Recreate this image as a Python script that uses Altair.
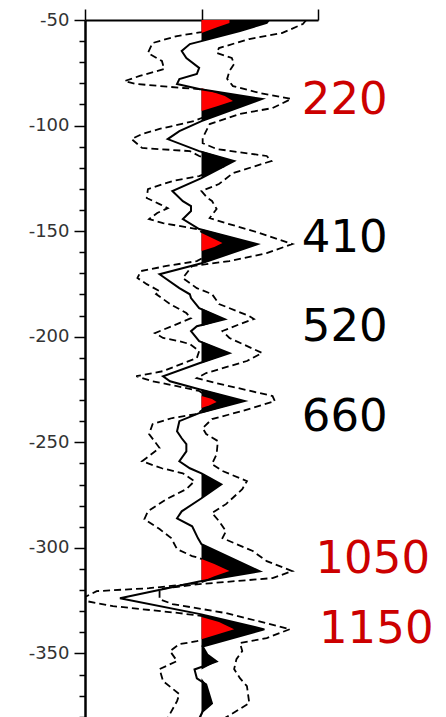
import altair as alt
import pandas as pd
import numpy as np

# ---- solid trace (depth, amplitude) ----
trace_depth = [-50.0, -51.4, -55.2, -60.0, -61.4, -64.7, -68.0, -72.7, -75.6, -78.0, -80.3, -82.7,
               -87.4, -97.9, -102.6, -106.4, -112.1, -116.8, -124.9, -131.0, -135.8, -138.1, -140.5,
               -144.3, -149.0, -156.2, -165.2, -170.4, -177.0, -179.9, -181.7, -186.5, -191.7, -195.0,
               -197.4, -202.1, -207.8, -212.6, -218.7, -221.1, -224.9, -230.5, -236.2, -240.0, -244.8,
               -248.1, -250.9, -254.3, -259.0, -262.3, -264.7, -269.9, -276.5, -282.7, -286.0, -289.8,
               -295.5, -298.3, -311.1, -315.9, -323.9, -331.5, -338.6, -346.7, -350.5, -353.8, -357.6,
               -361.8, -364.7, -373.7, -377.5, -380.8]
trace_amp = [0.58, 0.56, 0.33, 0.0, -0.10, -0.17, -0.13, -0.02, -0.04, -0.19, -0.21, -0.02,
             0.52, 0.0, -0.19, -0.29, -0.02, 0.28, 0.0, -0.25, -0.16, -0.09, -0.09,
             -0.16, -0.02, 0.48, 0.0, -0.36, -0.19, -0.10, -0.09, -0.02, 0.20, -0.04,
             -0.09, -0.02, 0.24, -0.02, -0.33, -0.27, -0.02, 0.37, -0.02, -0.19, -0.21,
             -0.17, -0.13, -0.13, -0.19, -0.10, 0.0, 0.17, 0.0, -0.17, -0.21, -0.08,
             -0.03, 0.0, 0.50, -0.02, -0.70, 0.0, 0.54, 0.01, 0.05, 0.13, -0.06,
             -0.04, 0.04, 0.09, 0.01, -0.02]

# ---- right dashed envelope ----
upper_depth = [-50.0, -51.9, -56.2, -59.0, -63.3, -65.6, -68.0, -70.8, -74.2, -77.9, -81.3, -84.6, -87.4,
               -91.7, -94.5, -99.3, -105.9, -108.3, -111.1, -114.4, -116.8, -122.5, -127.7, -131.0,
               -134.3, -135.7, -139.5, -143.8, -146.2, -150.9, -156.1, -160.4, -164.2, -166.5, -172.2,
               -177.0, -179.8, -184.5, -190.2, -191.6, -194.0, -197.3, -200.6, -207.7, -211.5, -217.2,
               -219.6, -222.0, -228.1, -230.5, -235.2, -239.0, -243.3, -246.1, -249.4, -255.6, -260.3,
               -263.6, -268.4, -272.2, -279.3, -283.5, -287.3, -292.1, -295.4, -301.5, -306.3, -311.0,
               -314.3, -317.2, -319.5, -324.3, -326.6, -330.9, -338.5, -342.7, -345.1, -348.9, -352.7,
               -357.4, -361.7, -365.5, -373.5, -377.3, -380.6]
upper_amp = [0.90, 0.87, 0.69, 0.41, 0.15, 0.13, 0.26, 0.28, 0.24, 0.22, 0.27, 0.50, 0.77,
             0.61, 0.33, 0.07, 0.01, 0.01, 0.13, 0.56, 0.60, 0.27, 0.15, 0.0,
             0.05, 0.09, 0.13, 0.07, 0.21, 0.50, 0.78, 0.56, 0.24, -0.08, -0.16,
             -0.04, 0.09, 0.15, 0.41, 0.45, 0.33, 0.18, 0.24, 0.52, 0.39, 0.04,
             -0.04, 0.13, 0.61, 0.63, 0.35, 0.09, 0.01, 0.04, 0.14, 0.13, 0.09,
             0.18, 0.39, 0.35, 0.21, 0.09, 0.15, 0.21, 0.18, 0.44, 0.56, 0.78,
             0.61, -0.02, -0.36, -0.36, -0.25, 0.21, 0.76, 0.56, 0.33, 0.35, 0.30,
             0.28, 0.33, 0.39, 0.41, 0.30, 0.20]

# ---- left dashed envelope ----
lower_depth = [-50.0, -55.7, -57.6, -60.9, -65.6, -69.4, -73.2, -76.5, -78.9, -80.3, -82.2, -82.7,
               -88.4, -96.4, -97.8, -101.6, -104.0, -106.4, -109.7, -110.6, -112.1, -114.4, -119.2,
               -123.9, -126.3, -130.1, -134.3, -137.2, -139.1, -141.4, -144.3, -146.2, -149.0, -157.1,
               -164.2, -166.5, -168.9, -172.2, -175.1, -178.4, -179.8, -184.5, -188.8, -191.2, -194.0,
               -198.3, -200.6, -202.1, -203.5, -206.8, -210.1, -216.3, -218.7, -221.1, -223.4, -225.7,
               -230.5, -236.6, -238.5, -241.4, -246.1, -252.7, -259.0, -262.3, -264.7, -268.4, -272.2,
               -276.9, -282.7, -286.4, -291.1, -295.4, -300.6, -303.9, -304.8, -311.0, -316.7, -319.1,
               -320.5, -323.3, -325.2, -327.6, -330.9, -332.3, -338.5, -344.2, -345.6, -348.9, -353.6,
               -357.4, -363.1, -369.3, -372.6, -380.6]
lower_amp = [0.28, 0.0, -0.21, -0.42, -0.46, -0.34, -0.32, -0.53, -0.66, -0.56, -0.16, -0.02,
             0.28, 0.0, -0.06, -0.36, -0.51, -0.60, -0.53, -0.51, -0.10, -0.02, 0.20,
             -0.02, -0.25, -0.46, -0.47, -0.36, -0.29, -0.38, -0.45, -0.33, -0.04, 0.20,
             -0.04, -0.30, -0.52, -0.55, -0.47, -0.36, -0.39, -0.27, -0.13, -0.09, -0.21,
             -0.40, -0.33, -0.19, -0.10, -0.02, -0.04, -0.33, -0.56, -0.42, -0.21, -0.02,
             0.11, -0.04, -0.25, -0.42, -0.45, -0.36, -0.51, -0.34, -0.16, -0.06, -0.13,
             -0.30, -0.46, -0.49, -0.36, -0.26, -0.21, -0.08, -0.02, 0.24, -0.02, -0.45,
             -0.90, -1.00, -0.99, -0.76, -0.19, 0.01, 0.28, -0.04, -0.19, -0.27, -0.21,
             -0.36, -0.33, -0.19, -0.21, -0.29]

# ---- red highlighted lobes ----
red_group = [0] * 5 + [1] * 6 + [2] * 5 + [3] * 5 + [4] * 5 + [5] * 5
red_depth = [-50.0, -51.4, -53.3, -54.7, -56.2,
             -82.2, -83.6, -86.0, -88.4, -90.7, -93.1,
             -150.9, -153.3, -155.6, -157.5, -159.4,
             -228.1, -229.5, -230.9, -232.4, -233.8,
             -305.3, -307.7, -311.0, -313.4, -315.9,
             -332.7, -335.1, -338.5, -340.9, -343.3]
red_amp = [0.24, 0.24, 0.14, 0.07, 0.0,
           0.0, 0.07, 0.20, 0.27, 0.14, 0.0,
           0.0, 0.09, 0.18, 0.11, 0.0,
           0.0, 0.09, 0.13, 0.07, 0.0,
           0.0, 0.11, 0.24, 0.11, 0.0,
           0.0, 0.15, 0.28, 0.14, 0.0]

# ---- annotations ----
label_text = ["220", "410", "520", "660", "1050", "1150"]
label_depth = [-87.7, -153.3, -195.4, -238.1, -305.3, -338.5]
label_amp = [1.23, 1.23, 1.23, 1.23, 1.47, 1.50]
label_color = ["#cc0000", "#000000", "#000000", "#000000", "#cc0000", "#cc0000"]


def frame(d, a):
    return pd.DataFrame({"depth": d, "amp": a, "i": list(range(len(d))), "base": 0.0})


trace_df = frame(trace_depth, trace_amp)
fill_df = trace_df.copy()
fill_df["amp"] = np.clip(fill_df["amp"], 0, None)
upper_df = frame(upper_depth, upper_amp)
lower_df = frame(lower_depth, lower_amp)
red_df = frame(red_depth, red_amp)
red_df["g"] = red_group
lab_df = pd.DataFrame({"text": label_text, "depth": label_depth, "amp": label_amp, "color": label_color})

x_scale = alt.Scale(domain=[-1, 1], nice=False, zero=False)
y_scale = alt.Scale(domain=[-382, -50], nice=False, zero=False)

x_axis = alt.Axis(orient="top", values=[-1, 0, 1], labels=False, title=None, grid=False,
                  tickSize=11, tickWidth=1.5, tickColor="black",
                  domainWidth=2, domainColor="black")
y_axis = alt.Axis(values=list(range(-50, -390, -10)), title=None, grid=False,
                  labelExpr="datum.value % 50 === 0 ? '' + datum.value : ''",
                  tickSize={"condition": {"test": "datum.value % 50 === 0", "value": 11}, "value": 6},
                  tickWidth=1.5, tickColor="black", domainWidth=2.5, domainColor="black",
                  labelFont="DejaVu Sans", labelFontSize=18, labelColor="#333333",
                  labelPadding=5)

X = alt.X("amp:Q", scale=x_scale, axis=x_axis)
Y = alt.Y("depth:Q", scale=y_scale, axis=y_axis)

dash = dict(color="black", strokeWidth=1.8, strokeDash=[7, 4], clip=True)
upper = alt.Chart(upper_df).mark_line(**dash).encode(x=X, y=Y, order="i:Q")
lower = alt.Chart(lower_df).mark_line(**dash).encode(x=X, y=Y, order="i:Q")
fill = alt.Chart(fill_df).mark_area(orient="horizontal", color="black", clip=True).encode(
    x=X, x2="base:Q", y=Y)
red = alt.Chart(red_df).mark_area(orient="horizontal", color="#ff0000", clip=True).encode(
    x=X, x2="base:Q", y=Y, detail="g:N")
line = alt.Chart(trace_df).mark_line(color="black", strokeWidth=2, clip=True).encode(
    x=X, y=Y, order="i:Q")
labels = alt.Chart(lab_df).mark_text(font="DejaVu Sans", fontSize=45, align="center",
                                     baseline="middle").encode(
    x=X, y=Y, text="text:N", color=alt.Color("color:N", scale=None))

chart = alt.layer(upper, lower, fill, red, line, labels).properties(
    width=233, height=701,
    padding={"left": 20, "top": 0, "right": 0, "bottom": 0}
).configure_view(stroke=None)

chart.save("out.html", embed_options={"renderer": "svg", "actions": False})
